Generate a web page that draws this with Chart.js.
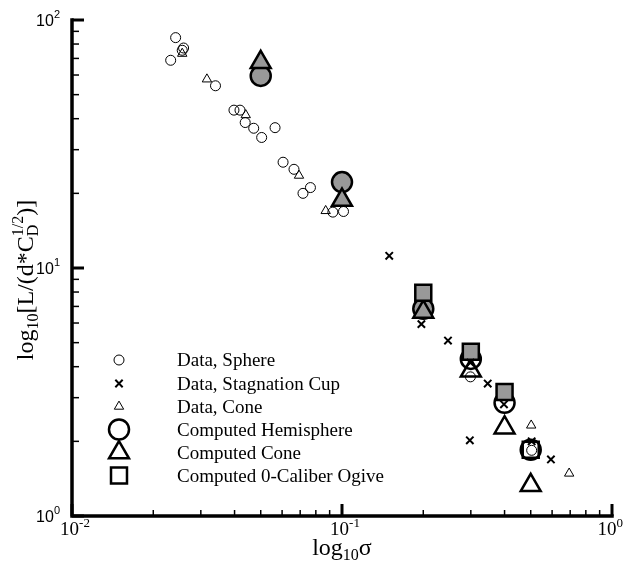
<!DOCTYPE html>
<html>
<head>
<meta charset="utf-8">
<script src="https://cdn.jsdelivr.net/npm/chart.js@4/dist/chart.umd.min.js"></script>
<style>
  html, body { margin: 0; padding: 0; background: #fff; }
</style>
</head>
<body>
<canvas id="chart" width="626" height="565"></canvas>
<script>
// data (sigma, L/(d*sqrt(CD)))
const sphereX = [0.0242, 0.0259, 0.0256, 0.0232, 0.0340, 0.0398, 0.0419, 0.0438, 0.0471, 0.0504, 0.0565, 0.0605, 0.0664, 0.0764, 0.0717, 0.0925, 0.1013, 0.299, 0.504];
const sphereY = [84.9, 77.1, 75.5, 68.8, 54.3, 43.3, 43.3, 38.6, 36.6, 33.6, 36.8, 26.7, 25.0, 21.1, 20.0, 16.8, 16.9, 3.64, 1.84];

const cupX = [0.1496, 0.1968, 0.2469, 0.299, 0.3465, 0.398, 0.2975, 0.504, 0.594];
const cupY = [11.2, 5.94, 5.10, 4.15, 3.42, 2.82, 2.02, 2.0, 1.69];

const coneX = [0.0256, 0.0316, 0.0440, 0.0693, 0.0870, 0.502, 0.694];
const coneY = [73.2, 57.7, 41.4, 23.6, 17.0, 2.32, 1.485];

const hemiX = [0.05, 0.1, 0.2, 0.3, 0.4, 0.5];
const hemiY = [59.5, 22.2, 6.85, 4.3, 2.86, 1.85];
const hemiFilled = [true, true, true, false, false, false];

const compConeX = [0.05, 0.1, 0.2, 0.3, 0.4, 0.5];
const compConeY = [67.5, 18.8, 6.65, 3.85, 2.27, 1.33];
const compConeFilled = [true, true, true, false, false, false];

const ogiveX = [0.2, 0.3, 0.4, 0.5];
const ogiveY = [7.95, 4.6, 3.16, 1.85];
const ogiveFilled = [true, true, true, false];

const legendLabels = ['Data, Sphere', 'Data, Stagnation Cup', 'Data, Cone',
  'Computed Hemisphere', 'Computed Cone', 'Computed 0-Caliber Ogive'];

const GRAY = '#999999';
const NONE = 'rgba(0,0,0,0)';

function pts(xs, ys) {
  return xs.map((x, i) => ({ x: x, y: ys[i] }));
}
function fills(flags) {
  return flags.map(f => f ? GRAY : NONE);
}

const datasets = [
  { label: legendLabels[0], data: pts(sphereX, sphereY), pointStyle: 'circle', pointRadius: 5,
    pointBorderWidth: 1, pointBackgroundColor: NONE, pointBorderColor: '#000', order: 1 },
  { label: legendLabels[1], data: pts(cupX, cupY), pointStyle: 'crossRot', pointRadius: 5.2,
    pointBorderWidth: 2, pointBackgroundColor: NONE, pointBorderColor: '#000', order: 0 },
  { label: legendLabels[2], data: pts(coneX, coneY), pointStyle: 'triangle', pointRadius: 5.4,
    pointBorderWidth: 1, pointBackgroundColor: NONE, pointBorderColor: '#000', order: 2 },
  { label: legendLabels[3], data: pts(hemiX, hemiY), pointStyle: 'circle', pointRadius: 10,
    pointBorderWidth: 2.5, pointBackgroundColor: fills(hemiFilled), pointBorderColor: '#000', order: 5 },
  { label: legendLabels[4], data: pts(compConeX, compConeY), pointStyle: 'triangle', pointRadius: 11.5,
    pointBorderWidth: 2.5, pointBackgroundColor: fills(compConeFilled), pointBorderColor: '#000', order: 4 },
  { label: legendLabels[5], data: pts(ogiveX, ogiveY), pointStyle: 'rect', pointRadius: 11.3,
    pointBorderWidth: 2.5, pointBackgroundColor: fills(ogiveFilled), pointBorderColor: '#000', order: 3 }
];
datasets.forEach(d => { d.showLine = false; d.clip = false; });

const SERIF = '"Liberation Serif", "Times New Roman", serif';
const SANS = '"Liberation Sans", Arial, sans-serif';

// "10" with a raised exponent; x is the group's left edge
function drawPow(ctx, x, y, exp, baseFont, supFont, rise) {
  ctx.font = baseFont;
  ctx.fillText('10', x, y);
  const w = ctx.measureText('10').width;
  ctx.font = supFont;
  ctx.fillText(exp, x + w, y - rise);
}
function powWidth(ctx, exp, baseFont, supFont) {
  ctx.font = baseFont;
  const w = ctx.measureText('10').width;
  ctx.font = supFont;
  return w + ctx.measureText(exp).width;
}

// runs of [text, font, dy] pieces, or {stack: [...]} for sub+sup on one spot
function runWidth(ctx, parts) {
  let w = 0;
  parts.forEach(p => {
    if (p.stack) {
      w += Math.max(...p.stack.map(s => { ctx.font = s[1]; return ctx.measureText(s[0]).width; }));
    } else { ctx.font = p[1]; w += ctx.measureText(p[0]).width; }
  });
  return w;
}
function drawRun(ctx, parts, x, y) {
  parts.forEach(p => {
    if (p.stack) {
      let mw = 0;
      p.stack.forEach(s => {
        ctx.font = s[1];
        ctx.fillText(s[0], x, y + s[2]);
        mw = Math.max(mw, ctx.measureText(s[0]).width);
      });
      x += mw;
    } else {
      ctx.font = p[1];
      ctx.fillText(p[0], x, y + p[2]);
      x += ctx.measureText(p[0]).width;
    }
  });
}

const axesPlugin = {
  id: 'tecAxes',
  afterDraw(chart) {
    const ctx = chart.ctx;
    const xs = chart.scales.x, ys = chart.scales.y;
    const a = chart.chartArea;
    ctx.save();
    ctx.strokeStyle = '#000';
    ctx.fillStyle = '#000';

    // ticks (inward), decades with minor marks
    const tick = (x1, y1, x2, y2, w) => {
      ctx.lineWidth = w;
      ctx.beginPath(); ctx.moveTo(x1, y1); ctx.lineTo(x2, y2); ctx.stroke();
    };
    [1, 10].forEach(dec => {
      for (let m = 1; m <= 9; m++) {
        const py = ys.getPixelForValue(m * dec);
        if (m === 1) tick(a.left, py, a.left + 12, py, 3);
        else tick(a.left, py, a.left + 7, py, 1.5);
      }
    });
    tick(a.left, ys.getPixelForValue(100), a.left + 12, ys.getPixelForValue(100), 3);
    [0.01, 0.1].forEach(dec => {
      for (let m = 1; m <= 9; m++) {
        const px = xs.getPixelForValue(m * dec);
        if (m === 1) tick(px, a.bottom, px, a.bottom - 12, 3);
        else tick(px, a.bottom, px, a.bottom - 6, 1.5);
      }
    });
    tick(xs.getPixelForValue(1), a.bottom, xs.getPixelForValue(1), a.bottom - 12, 3);

    // axis lines
    ctx.lineWidth = 3.5;
    ctx.lineCap = 'square';
    ctx.beginPath();
    ctx.moveTo(a.left, a.top);
    ctx.lineTo(a.left, a.bottom);
    ctx.lineTo(a.right, a.bottom);
    ctx.stroke();
    ctx.lineCap = 'butt';

    // y tick labels (sans)
    ctx.textBaseline = 'alphabetic';
    ctx.textAlign = 'left';
    const yb = '16px ' + SANS, ysup = '11px ' + SANS;
    [[1, '0'], [10, '1'], [100, '2']].forEach(([v, e]) => {
      const py = ys.getPixelForValue(v);
      const w = powWidth(ctx, e, yb, ysup);
      drawPow(ctx, 60 - w, py + 6, e, yb, ysup, 8);
    });

    // x tick labels (serif), last one kept inside the page
    const xb = '19px ' + SERIF, xsup = '13px ' + SERIF;
    [[0.01, '-2'], [0.1, '-1'], [1, '0']].forEach(([v, e]) => {
      const px = xs.getPixelForValue(v);
      const w = powWidth(ctx, e, xb, xsup);
      const left = Math.min(px + 3 - w / 2, 623 - w);
      drawPow(ctx, left, 535, e, xb, xsup, 8);
    });

    // x title
    const big = '24px ' + SERIF, small = '16px ' + SERIF;
    const xt = [['log', big, 0], ['10', small, 5], ['\u03c3', big, 0]];
    drawRun(ctx, xt, 342 - runWidth(ctx, xt) / 2, 555);

    // y title (rotated)
    const yt = [['log', big, 0], ['10', small, 5], ['[L/(d*C', big, 0],
      { stack: [['1/2', small, -10], ['D', small, 5]] }, [')]', big, 0]];
    ctx.translate(33, 280);
    ctx.rotate(-Math.PI / 2);
    drawRun(ctx, yt, -runWidth(ctx, yt) / 2, 0);
    ctx.restore();

    // legend inside the plot
    ctx.save();
    const rows = [360, 383.5, 406.5, 429.5, 452.5, 475.5];
    chart.data.datasets.forEach((ds, i) => {
      ctx.strokeStyle = '#000';
      ctx.fillStyle = NONE;
      ctx.lineWidth = ds.pointBorderWidth;
      Chart.helpers.drawPoint(ctx, {
        pointStyle: ds.pointStyle, radius: ds.pointRadius, rotation: 0, borderWidth: ds.pointBorderWidth
      }, 119, rows[i]);
      ctx.fillStyle = '#000';
      ctx.font = '19px ' + SERIF;
      ctx.textAlign = 'left';
      ctx.textBaseline = 'alphabetic';
      ctx.fillText(ds.label, 177, rows[i] + 6);
    });
    ctx.restore();
  }
};

new Chart(document.getElementById('chart'), {
  type: 'scatter',
  data: { datasets: datasets },
  options: {
    responsive: false,
    animation: false,
    devicePixelRatio: 1,
    layout: { padding: { left: 72, right: 12, top: 20, bottom: 49 } },
    plugins: { legend: { display: false }, tooltip: { enabled: false } },
    scales: {
      x: { type: 'logarithmic', min: 0.01, max: 1, display: false },
      y: { type: 'logarithmic', min: 1, max: 100, display: false }
    }
  },
  plugins: [axesPlugin]
});
</script>
</body>
</html>
